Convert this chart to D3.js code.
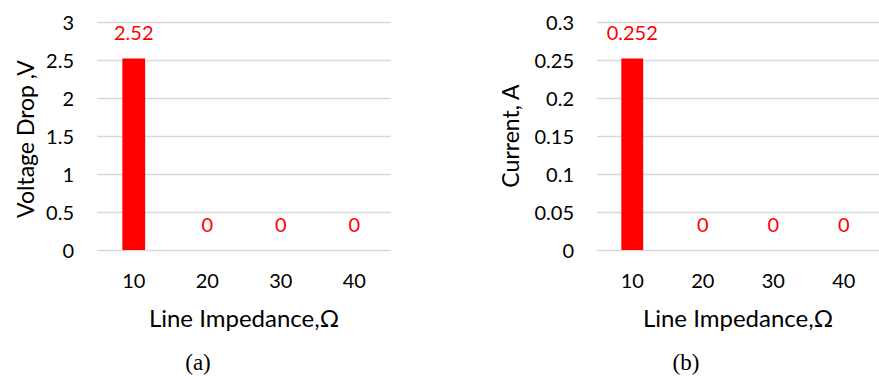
<!DOCTYPE html>
<html>
<head>
<meta charset="utf-8">
<script src="https://cdn.jsdelivr.net/npm/d3@7"></script>
<style>
  html, body { margin: 0; padding: 0; background: #fff; }
  svg { display: block; }
</style>
</head>
<body>
<svg id="chart" width="879" height="376"></svg>
<script>
// Line impedance categories shared by both panels
const impedances = ["10", "20", "30", "40"];
// Panel (a): voltage drop in volts
const voltageDrop = [2.52, 0, 0, 0];
const voltageTicks = [0, 0.5, 1, 1.5, 2, 2.5, 3];
// Panel (b): current in amperes
const current = [0.252, 0, 0, 0];
const currentTicks = [0, 0.05, 0.1, 0.15, 0.2, 0.25, 0.3];

const svg = d3.select("#chart");
const FONT = "Lato, 'Open Sans', sans-serif";
const RED = "#ff0000";

const panels = [
  { values: voltageDrop, ticks: voltageTicks, max: 3, x0: 97, x1: 391,
    yTitle: "Voltage Drop ,V", yTitleX: 34, yTitleY: 139, caption: "(a)", captionX: 198 },
  { values: current, ticks: currentTicks, max: 0.3, x0: 597, x1: 879,
    yTitle: "Current, A", yTitleX: 519, yTitleY: 136, caption: "(b)", captionX: 686 }
];

const yTop = 22, yBottom = 250;

panels.forEach(p => {
  const g = svg.append("g");
  const x = d3.scaleBand().domain(impedances).range([p.x0, p.x1]).paddingInner(0.69).paddingOuter(0.345);
  const y = d3.scaleLinear().domain([0, p.max]).range([yBottom, yTop]);

  // horizontal gridlines
  g.selectAll("line.grid").data(p.ticks).join("line")
    .attr("class", "grid")
    .attr("x1", p.x0).attr("x2", p.x1)
    .attr("y1", d => Math.round(y(d)) + 0.5).attr("y2", d => Math.round(y(d)) + 0.5)
    .attr("stroke", "#d9d9d9").attr("stroke-width", 1.3);

  // y axis tick labels
  const yAxis = d3.axisLeft(y).tickValues(p.ticks).tickSize(0).tickPadding(0)
    .tickFormat(d => String(+d.toFixed(3)));
  const ya = g.append("g").attr("transform", `translate(${p.x0 - 23},0)`).call(yAxis);
  ya.select(".domain").remove();
  ya.selectAll("text").attr("font-family", FONT).attr("font-size", 20).attr("fill", "#000")
    .attr("dy", "0.36em");

  // x axis tick labels
  const xAxis = d3.axisBottom(x).tickSize(0).tickPadding(0);
  const xa = g.append("g").attr("transform", `translate(0,${yBottom + 38})`).call(xAxis);
  xa.select(".domain").remove();
  xa.selectAll("text").attr("font-family", FONT).attr("font-size", 20).attr("fill", "#000")
    .attr("dy", 0);

  // bars
  g.selectAll("rect.bar").data(p.values).join("rect")
    .attr("class", "bar")
    .attr("x", (d, i) => x(impedances[i]))
    .attr("width", x.bandwidth())
    .attr("y", d => y(d))
    .attr("height", d => yBottom - y(d))
    .attr("fill", RED);

  // value labels
  g.selectAll("text.val").data(p.values).join("text")
    .attr("class", "val")
    .attr("x", (d, i) => x(impedances[i]) + x.bandwidth() / 2)
    .attr("y", d => y(d) - 18)
    .attr("text-anchor", "middle")
    .attr("font-family", FONT).attr("font-size", 20).attr("fill", RED)
    .text(d => String(d));

  // axis titles
  g.append("text")
    .attr("x", (p.x0 + p.x1) / 2).attr("y", 327)
    .attr("text-anchor", "middle")
    .attr("font-family", FONT).attr("font-size", 24).attr("fill", "#000")
    .text("Line Impedance,Ω");
  g.append("text")
    .attr("transform", `translate(${p.yTitleX},${p.yTitleY}) rotate(-90)`)
    .attr("text-anchor", "middle")
    .attr("font-family", FONT).attr("font-size", 23).attr("fill", "#000")
    .text(p.yTitle);

  // panel caption
  g.append("text")
    .attr("x", p.captionX).attr("y", 370)
    .attr("text-anchor", "middle")
    .attr("font-family", "'Liberation Serif', 'Times New Roman', serif").attr("font-size", 23).attr("fill", "#000")
    .text(p.caption);
});
</script>
</body>
</html>
